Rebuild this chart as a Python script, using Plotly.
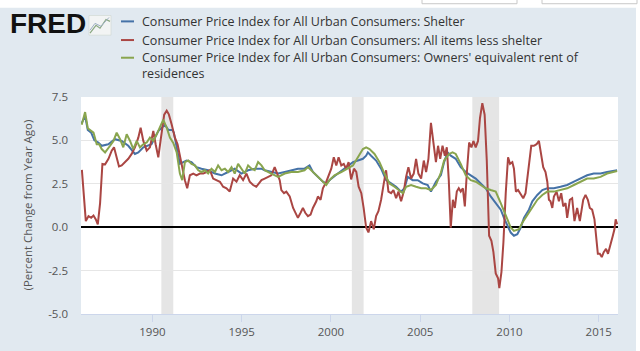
import numpy as np
import pandas as pd
import plotly.graph_objects as go

# ---------------- data (decimal years, percent change from year ago) ----------------
shelter_t = [1986.04,1986.23,1986.38,1986.57,1986.75,1986.97,1987.16,1987.53,1987.90,1988.28,1988.65,
             1989.02,1989.21,1989.49,1989.95,1990.33,1990.70,1990.90,1991.12,1991.20,1991.36,1991.54,1991.73,
             1991.91,1992.19,1992.47,1992.75,1993.12,1993.50,1993.87,1994.24,1994.61,1994.99,1995.36,1995.73,
             1996.10,1996.29,1996.66,1997.04,1997.41,1997.78,1998.15,1998.52,1998.80,1998.99,1999.27,1999.55,
             1999.74,2000.02,2000.39,2000.76,2000.95,2001.23,2001.51,2001.79,2001.97,2002.07,2002.25,2002.53,
             2002.81,2003.09,2003.37,2003.65,2003.93,2004.12,2004.30,2004.58,2004.86,2005.14,2005.42,2005.60,
             2005.88,2006.16,2006.34,2006.53,2006.71,2006.99,2007.27,2007.55,2007.83,2008.11,2008.39,2008.67,
             2008.95,2009.23,2009.51,2009.69,2009.88,2010.07,2010.25,2010.44,2010.63,2010.81,2011.09,2011.28,
             2011.56,2011.84,2012.12,2012.49,2012.86,2013.23,2013.61,2013.98,2014.35,2014.72,2015.10,2015.47,
             2015.75,2016.03]
shelter_v = [6.0,6.4,5.6,5.45,5.0,4.88,4.69,4.78,5.07,4.97,4.69,
             4.22,4.31,4.6,4.78,5.54,5.9,5.6,5.6,5.45,4.6,3.65,3.75,
             3.84,3.75,3.46,3.37,3.28,3.09,2.99,3.18,3.37,3.09,3.28,3.37,
             3.37,3.28,3.18,3.09,3.18,3.28,3.37,3.37,3.56,3.18,2.9,2.62,
             2.52,2.8,3.09,3.37,3.56,3.75,3.84,3.94,4.12,4.31,4.12,3.84,
             3.37,2.71,2.52,2.33,2.05,2.24,2.9,2.71,2.71,2.52,2.43,2.05,
             2.62,3.0,3.75,4.31,4.12,3.94,3.46,3.18,2.99,2.8,2.52,2.24,
             1.77,1.39,1.01,0.54,0.07,-0.31,-0.49,-0.4,-0.02,0.54,1.01,1.49,
             1.86,2.14,2.24,2.24,2.33,2.43,2.62,2.8,2.99,3.09,3.09,3.18,
             3.24,3.28]

less_shelter_t = [1986.05,1986.27,1986.42,1986.57,1986.70,1986.83,1986.94,1987.07,1987.20,1987.35,1987.54,
                  1987.72,1987.85,1988.00,1988.13,1988.28,1988.47,1988.65,1988.84,1989.02,1989.21,1989.34,
                  1989.49,1989.68,1989.86,1990.05,1990.18,1990.33,1990.48,1990.66,1990.80,1990.92,1991.08,
                  1991.26,1991.41,1991.54,1991.67,1991.82,1991.95,1992.10,1992.29,1992.47,1992.66,1992.85,
                  1993.03,1993.22,1993.40,1993.59,1993.78,1993.96,1994.15,1994.33,1994.52,1994.71,1994.89,
                  1995.08,1995.27,1995.45,1995.64,1995.82,1996.01,1996.11,1996.29,1996.48,1996.66,1996.85,
                  1997.00,1997.13,1997.22,1997.37,1997.50,1997.69,1997.88,1998.01,1998.15,1998.30,1998.43,
                  1998.56,1998.71,1998.86,1998.99,1999.18,1999.27,1999.42,1999.55,1999.74,1999.87,2000.02,
                  2000.16,2000.30,2000.43,2000.58,2000.72,2000.85,2000.99,2001.13,2001.29,2001.42,2001.55,
                  2001.70,2001.83,2001.97,2002.10,2002.25,2002.40,2002.53,2002.66,2002.81,2002.96,2003.09,
                  2003.22,2003.37,2003.50,2003.65,2003.78,2003.93,2004.08,2004.21,2004.34,2004.49,2004.64,
                  2004.77,2004.90,2005.05,2005.20,2005.33,2005.46,2005.60,2005.75,2005.88,2006.00,2006.12,
                  2006.25,2006.38,2006.49,2006.60,2006.71,2006.83,2006.94,2007.05,2007.16,2007.27,2007.39,
                  2007.50,2007.61,2007.74,2007.87,2007.98,2008.11,2008.24,2008.35,2008.48,2008.61,2008.73,
                  2008.86,2008.99,2009.10,2009.23,2009.36,2009.43,2009.55,2009.66,2009.79,2009.92,2010.03,
                  2010.16,2010.25,2010.36,2010.48,2010.63,2010.77,2010.90,2011.03,2011.14,2011.22,2011.37,
                  2011.52,2011.65,2011.78,2011.89,2012.02,2012.12,2012.21,2012.30,2012.40,2012.49,2012.64,
                  2012.77,2012.90,2013.01,2013.14,2013.23,2013.38,2013.51,2013.64,2013.79,2013.94,2014.04,
                  2014.13,2014.26,2014.39,2014.50,2014.63,2014.76,2014.85,2014.95,2015.06,2015.17,2015.28,
                  2015.41,2015.52,2015.66,2015.79,2015.88,2015.95,2016.03]
less_shelter_v = [3.3,0.35,0.64,0.54,0.67,0.45,0.16,1.39,3.65,3.62,3.94,
                  4.41,4.6,4.03,3.5,3.56,3.75,3.94,4.22,4.6,5.16,5.73,
                  4.97,4.41,4.6,5.54,4.78,4.03,5.16,6.48,6.71,6.5,5.92,
                  5.16,4.78,4.12,3.28,2.71,2.24,2.99,3.09,2.99,3.09,3.09,
                  3.18,3.28,2.8,2.71,2.62,2.33,2.24,2.05,2.8,2.62,2.99,
                  2.71,3.09,2.62,2.43,2.33,2.55,2.71,2.8,2.9,2.99,3.46,
                  3.09,2.71,2.14,1.96,2.05,1.77,1.11,0.83,0.54,0.83,1.11,
                  0.83,0.64,0.73,1.11,1.49,1.77,1.58,2.24,2.62,2.99,3.37,
                  4.03,3.56,4.03,3.56,3.65,3.37,3.75,2.75,3.37,3.18,2.33,
                  1.96,1.11,-0.02,-0.3,0.35,-0.12,0.64,0.92,1.58,2.52,3.28,
                  2.05,1.96,2.14,1.67,2.05,1.49,2.05,2.9,3.46,2.8,3.09,
                  3.94,3.09,2.8,3.84,3.18,3.94,6.01,4.78,3.75,4.69,3.94,
                  4.69,4.12,4.6,2.71,-0.02,1.58,1.11,2.05,2.24,2.05,2.24,
                  1.2,3.09,4.88,4.6,4.97,4.6,4.97,6.29,7.14,6.48,3.84,
                  -0.49,-0.78,-1.44,-2.66,-2.94,-3.51,-2.57,-0.87,1.96,4.03,3.65,
                  3.75,3.37,2.05,2.14,1.86,1.67,1.96,3.09,4.03,4.69,4.69,
                  4.78,4.97,4.22,3.46,3.18,2.62,1.58,1.49,1.11,1.77,2.05,
                  1.49,1.96,1.2,1.39,0.54,1.58,1.67,0.35,1.11,0.35,1.11,
                  1.58,1.86,1.58,1.11,1.01,0.45,-0.49,-1.53,-1.53,-1.72,-1.44,
                  -1.25,-1.53,-1.06,-0.49,-0.12,0.45,0.17]

oer_t = [1986.04,1986.13,1986.23,1986.38,1986.57,1986.70,1986.88,1987.02,1987.16,1987.35,1987.63,1987.82,
         1988.00,1988.19,1988.37,1988.56,1988.75,1988.93,1989.12,1989.30,1989.49,1989.68,1989.86,1990.05,
         1990.24,1990.42,1990.61,1990.80,1990.98,1991.17,1991.36,1991.54,1991.67,1991.82,1992.01,1992.19,
         1992.38,1992.57,1992.75,1992.94,1993.12,1993.31,1993.50,1993.68,1993.87,1994.06,1994.24,1994.43,
         1994.61,1994.80,1994.99,1995.17,1995.36,1995.55,1995.73,1995.92,1996.11,1996.29,1996.66,1997.04,
         1997.41,1997.78,1998.15,1998.52,1998.71,1998.99,1999.27,1999.55,1999.74,1999.92,2000.20,2000.58,
         2000.95,2001.23,2001.51,2001.79,2001.97,2002.16,2002.44,2002.72,2003.00,2003.28,2003.56,2003.84,
         2004.03,2004.21,2004.49,2004.77,2005.05,2005.33,2005.60,2005.88,2006.16,2006.34,2006.62,2006.81,
         2006.99,2007.27,2007.55,2007.83,2008.11,2008.39,2008.67,2008.95,2009.23,2009.51,2009.79,2010.07,
         2010.25,2010.53,2010.72,2011.00,2011.28,2011.56,2011.84,2012.12,2012.49,2012.86,2013.23,2013.61,
         2013.98,2014.35,2014.72,2015.10,2015.47,2015.75,2016.03]
oer_v = [5.9,6.2,6.63,5.7,5.54,5.45,4.78,4.78,4.5,4.31,4.69,4.97,
         5.45,5.07,4.6,5.35,4.97,4.5,4.97,4.6,4.78,4.88,5.16,4.97,
         5.35,5.82,6.2,5.73,5.16,4.85,4.31,3.09,2.71,3.75,3.84,3.65,
         3.56,3.28,3.18,3.28,3.09,3.37,3.18,3.56,3.28,3.37,3.18,3.46,
         3.09,3.65,3.37,3.09,3.56,3.37,3.28,3.75,3.56,3.28,3.09,2.9,
         3.09,3.18,3.18,3.28,3.46,3.18,2.9,2.62,2.43,2.71,2.99,3.18,
         3.37,3.56,4.03,4.5,4.6,4.5,4.22,3.75,3.09,2.52,2.33,2.14,
         1.96,2.33,2.43,2.33,2.24,2.24,2.14,2.43,3.15,3.84,4.22,4.31,
         4.22,3.65,2.99,2.71,2.62,2.43,2.24,2.14,2.05,1.39,0.64,-0.02,
         -0.21,-0.12,0.26,0.7,1.11,1.58,1.86,2.05,2.05,2.14,2.24,2.43,
         2.62,2.8,2.8,2.9,3.09,3.18,3.24]

recessions = [(1990.50, 1991.17), (2001.17, 2001.83), (2007.92, 2009.42)]

names = ["Consumer Price Index for All Urban Consumers: Shelter",
         "Consumer Price Index for All Urban Consumers: All items less shelter",
         "Consumer Price Index for All Urban Consumers: Owners' equivalent rent of residences"]
colors = ["#4572a7", "#aa4643", "#89a54e"]

y_ticks = [-5.0, -2.5, 0.0, 2.5, 5.0, 7.5]
x_tick_years = [1990, 1995, 2000, 2005, 2010, 2015]


def to_dates(years):
    out = []
    for y in years:
        yr = int(np.floor(y))
        frac = y - yr
        out.append(pd.Timestamp(year=yr, month=1, day=1) + pd.Timedelta(days=frac * 365.25))
    return out


fig = go.Figure()
for t, v, c, n in [(shelter_t, shelter_v, colors[0], names[0]),
                   (less_shelter_t, less_shelter_v, colors[1], names[1]),
                   (oer_t, oer_v, colors[2], names[2])]:
    fig.add_trace(go.Scatter(x=to_dates(t), y=v, mode="lines", name=n,
                             line=dict(color=c, width=2), showlegend=False))

PL, PR, PT, PB = 81, 618, 97, 318
def px(x):
    return (x - PL) / (PR - PL)
def py(y):
    return (PB - y) / (PB - PT)

shapes = []
for a, b in recessions:
    d = to_dates([a, b])
    shapes.append(dict(type="rect", xref="x", yref="paper", x0=d[0], x1=d[1], y0=0, y1=1,
                       fillcolor="#e5e5e5", line=dict(width=0), layer="below"))
# page strips outside the chart panel
shapes.append(dict(type="rect", xref="paper", yref="paper", x0=px(-5), x1=px(645), y0=py(6), y1=py(-5),
                   fillcolor="white", line=dict(width=0), layer="below"))
shapes.append(dict(type="rect", xref="paper", yref="paper", x0=px(636), x1=px(645), y0=py(360), y1=py(-5),
                   fillcolor="white", line=dict(width=0), layer="below"))
for bx0, bx1 in [(422, 517), (542, 637)]:
    shapes.append(dict(type="rect", xref="paper", yref="paper", x0=px(bx0), x1=px(bx1), y0=py(2), y1=py(-8),
                       fillcolor="white", line=dict(color="#c8c8c8", width=1)))

legend_rows = [20, 39, 57]
for row, c in zip(legend_rows, colors):
    shapes.append(dict(type="line", xref="paper", yref="paper", x0=px(121), x1=px(134),
                       y0=py(row), y1=py(row), line=dict(color=c, width=2)))

annotations = []
legend_text_rows = [(names[0], 20), (names[1], 39),
                    ("Consumer Price Index for All Urban Consumers: Owners' equivalent rent of", 57),
                    ("residences", 73)]
for txt, row in legend_text_rows:
    annotations.append(dict(text=txt, xref="paper", yref="paper", x=px(140), y=py(row),
                            xanchor="left", yanchor="middle", showarrow=False,
                            font=dict(family="Open Sans", size=12.5, color="#333333")))
annotations.append(dict(text="<b>FRED</b>", xref="paper", yref="paper", x=px(8), y=py(22),
                        xanchor="left", yanchor="middle", showarrow=False,
                        font=dict(family="Liberation Sans", size=28, color="#111111")))
annotations.append(dict(text="(Percent Change from Year Ago)", xref="paper", yref="paper",
                        x=px(27), y=0.5, textangle=-90, xanchor="center", yanchor="middle",
                        showarrow=False, font=dict(family="Open Sans", size=11.5, color="#555555")))
# small chart icon next to logo
shapes.append(dict(type="rect", xref="paper", yref="paper", x0=px(89), x1=px(111), y0=py(34), y1=py(14),
                   fillcolor="#f2f4f4", line=dict(color="#c8d0c8", width=0.5)))
shapes.append(dict(type="path", xref="paper", yref="paper",
                   path=f"M {px(90)} {py(32)} L {px(96)} {py(24)} L {px(100)} {py(27)} L {px(106)} {py(18)} L {px(110)} {py(20)}",
                   line=dict(color="#8aa882", width=1.2)))
shapes.append(dict(type="path", xref="paper", yref="paper",
                   path=f"M {px(90)} {py(29)} L {px(95)} {py(22)} L {px(101)} {py(25)} L {px(109)} {py(16)}",
                   line=dict(color="#9fb0c4", width=1)))

fig.update_layout(
    width=640, height=351,
    margin=dict(l=PL, r=640 - PR, t=PT, b=351 - PB, pad=0),
    paper_bgcolor="#e1e9f0",
    plot_bgcolor="white",
    shapes=shapes,
    annotations=annotations,
    font=dict(family="Open Sans", color="#555555"),
    xaxis=dict(
        type="date",
        range=[to_dates([1986.0])[0], to_dates([2016.08])[0]],
        tickvals=[pd.Timestamp(year=y, month=1, day=1) for y in x_tick_years],
        ticktext=[str(y) for y in x_tick_years],
        showgrid=False, ticks="outside", ticklen=7, tickcolor="#ccd6eb",
        showline=True, linecolor="#ccd6eb", linewidth=1,
        tickfont=dict(family="Open Sans", size=11.5, color="#555555"),
    ),
    yaxis=dict(
        range=[-5.0, 7.5],
        tickvals=y_ticks,
        ticktext=[f"{v:.1f}" for v in y_ticks],
        showgrid=True, gridcolor="#e6e6e6", gridwidth=1,
        zeroline=True, zerolinecolor="#000000", zerolinewidth=2,
        ticks="", ticklabelstandoff=12,
        tickfont=dict(family="Open Sans", size=11.5, color="#555555"),
    ),
)

fig.write_html("out.html")
